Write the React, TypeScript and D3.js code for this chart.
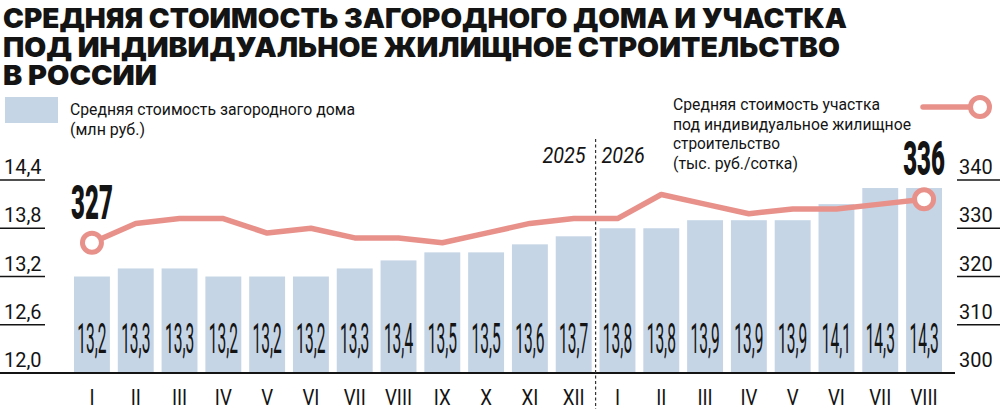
import * as d3 from "d3";

// data
const years = ["2025", "2026"];
const months2025 = ["I", "II", "III", "IV", "V", "VI", "VII", "VIII", "IX", "X", "XI", "XII"];
const months2026 = ["I", "II", "III", "IV", "V", "VI", "VII", "VIII"];
const housePrice = [13.2, 13.3, 13.3, 13.2, 13.2, 13.2, 13.3, 13.4, 13.5, 13.5, 13.6, 13.7,
     13.8, 13.8, 13.9, 13.9, 13.9, 14.1, 14.3, 14.3];
const plotPrice = [327, 331, 332, 332, 329, 330, 328, 328, 327, 329, 331, 332,
     332, 337, 335, 333, 334, 334, 335, 336];
const leftTicks = [12.0, 12.6, 13.2, 13.8, 14.4];
const rightTicks = [300, 310, 320, 330, 340];

const titleLines = [
     "СРЕДНЯЯ СТОИМОСТЬ ЗАГОРОДНОГО ДОМА И УЧАСТКА",
     "ПОД ИНДИВИДУАЛЬНОЕ ЖИЛИЩНОЕ СТРОИТЕЛЬСТВО",
     "В РОССИИ",
];
const houseLegend = ["Средняя стоимость загородного дома", "(млн руб.)"];
const plotLegend = ["Средняя стоимость участка", "под индивидуальное жилищное", "строительство", "(тыс. руб./сотка)"];

const BAR = "#c5d5e6";
const LINE = "#e8918a";
const INK = "#141414";
const COND = "Roboto, 'DejaVu Sans Condensed', sans-serif";

const W = 1000;
const H = 409;

const comma = (v: number) => d3.format(".1f")(v).replace(".", ",");

export default function App() {
     const cats = [
          ...months2025.map(m => `${years[0]}-${m}`),
          ...months2026.map(m => `${years[1]}-${m}`),
     ];
     const labels = [...months2025, ...months2026];

     const x = d3.scaleBand().domain(cats).range([74, 942]).paddingInner(0.18).paddingOuter(0);
     const yL = d3.scaleLinear().domain([12, 14.4]).range([373, 180]);
     const yR = d3.scaleLinear().domain([300, 340]).range([373, 180]);
     const bw = x.bandwidth();
     const cx = (i: number) => x(cats[i])! + bw / 2;

     const line = d3.line<number>()
          .x((_, i) => cx(i))
          .y(d => yR(d));

     const last = plotPrice.length - 1;
     const splitX = x(cats[months2025.length - 1])! + bw + (x.step() - bw) / 2;

     const titleWidths = [844, 837, 154];
     const houseWidths = [285, 75];
     const plotWidths = [207, 238, 107, 125];

     return (
          <svg width={W} height={H} style={{ position: "absolute", left: 0, top: 0, background: "#fff" }}
               fontFamily={COND}>
               {/* title, one block */}
               <text fontFamily="Inter, 'DejaVu Sans', sans-serif" fontWeight={900} fontSize={27.5} fill={INK}>
                    {titleLines.map((t, i) => (
                         <tspan key={t} x={3} y={28 + i * 28.5}
                              textLength={titleWidths[i]} lengthAdjust="spacingAndGlyphs">{t}</tspan>
                    ))}
               </text>

               {/* legend: bars */}
               <rect x={5} y={97} width={53} height={26} fill={BAR} />
               {houseLegend.map((t, i) => (
                    <text key={t} x={70} y={115 + i * 20} fontSize={16.5} fill={INK}
                         textLength={houseWidths[i]} lengthAdjust="spacingAndGlyphs">{t}</text>
               ))}

               {/* legend: line */}
               {plotLegend.map((t, i) => (
                    <text key={t} x={673} y={110 + i * 19.5} fontSize={16.5} fill={INK}
                         textLength={plotWidths[i]} lengthAdjust="spacingAndGlyphs">{t}</text>
               ))}
               <line x1={923} x2={972} y1={107} y2={107} stroke={LINE} strokeWidth={5.5} strokeLinecap="round" />
               <circle cx={980} cy={107} r={9.5} fill="#fff" stroke={LINE} strokeWidth={5} />

               {/* axes */}
               {leftTicks.map(t => (
                    <g key={"l" + t}>
                         {t > 12 && <line x1={0} x2={45} y1={yL(t)} y2={yL(t)} stroke={INK} strokeWidth={1.5} />}
                         <text transform={`translate(4,${yL(t) - 6}) scale(0.95,1)`} fontSize={21} fill={INK}>{comma(t)}</text>
                    </g>
               ))}
               {rightTicks.map(t => (
                    <g key={"r" + t}>
                         {t > 300 && <line x1={957} x2={1000} y1={yR(t)} y2={yR(t)} stroke={INK} strokeWidth={1.5} />}
                         <text transform={`translate(959,${yR(t) - 6}) scale(0.95,1)`} fontSize={21} fill={INK}>{t}</text>
                    </g>
               ))}

               {/* bars */}
               {housePrice.map((v, i) => (
                    <g key={cats[i]}>
                         <rect x={x(cats[i])} y={yL(v)} width={bw} height={yL(12) - yL(v)} fill={BAR} />
                         <text transform={`translate(${cx(i)},353) scale(0.37,1)`} fontSize={42} fontWeight={400}
                              fill={INK} textAnchor="middle">{comma(v)}</text>
                         <text transform={`translate(${cx(i)},405) scale(0.85,1)`} fontSize={22} fill={INK}
                              textAnchor="middle">{labels[i]}</text>
                    </g>
               ))}

               <line x1={0} x2={955} y1={yL(12)} y2={yL(12)} stroke={INK} strokeWidth={2} />

               {/* year split */}
               <line x1={splitX} x2={splitX} y1={139} y2={H} stroke="#333" strokeWidth={1.2} strokeDasharray="3,2.5" />
               <text transform={`translate(${splitX - 10},163) scale(0.9,1)`} fontSize={22} fontStyle="italic"
                    fill={INK} textAnchor="end">{years[0]}</text>
               <text transform={`translate(${splitX + 6},163) scale(0.9,1)`} fontSize={22} fontStyle="italic"
                    fill={INK}>{years[1]}</text>

               {/* line */}
               <path d={line(plotPrice)!} fill="none" stroke={LINE} strokeWidth={5.5} strokeLinejoin="round" />
               {[0, last].map(i => (
                    <g key={"m" + i}>
                         <circle cx={cx(i)} cy={yR(plotPrice[i])} r={9.5} fill="#fff" stroke={LINE} strokeWidth={5} />
                         <text transform={`translate(${cx(i)},${yR(plotPrice[i]) - 24}) scale(0.5,1)`} fontSize={48}
                              fontWeight={900} fill={INK} textAnchor="middle">{plotPrice[i]}</text>
                    </g>
               ))}
          </svg>
     );
}
